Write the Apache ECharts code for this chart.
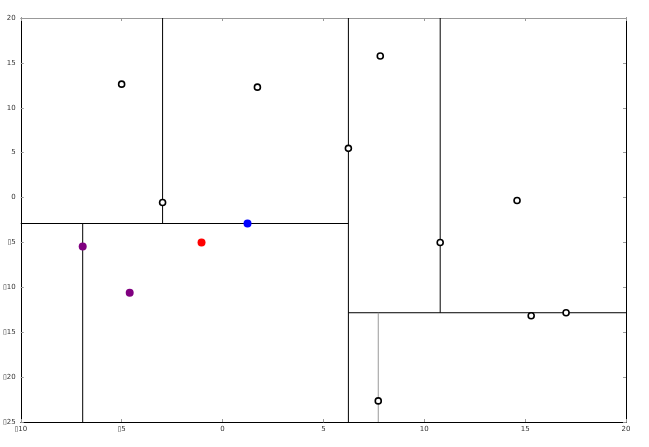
<!DOCTYPE html>
<html>
<head>
<meta charset="utf-8">
<script src="https://cdn.jsdelivr.net/npm/echarts@6/dist/echarts.min.js"></script>
<style>
  html, body { margin: 0; padding: 0; background: #fff; }
  #chart { width: 649px; height: 447px; }
</style>
</head>
<body>
<div id="chart"></div>
<script>
// kd-tree points (hollow)
const nodePoints = [
  [-5.0, 12.63], [-2.97, -0.55], [1.73, 12.3], [6.24, 5.48], [7.82, 15.76],
  [10.79, -5.0], [14.6, -0.32], [15.3, -13.16], [17.03, -12.83], [7.72, -22.65]
];
// highlighted points
const purplePoints = [[-6.93, -5.46], [-4.6, -10.6]];
const redPoints = [[-1.04, -5.01]];
const bluePoints = [[1.24, -2.89]];

// split lines [x1, y1, x2, y2]
const splitLines = [
  [6.24, -25, 6.24, 20],
  [-10, -2.89, 6.24, -2.89],
  [-2.97, -2.89, -2.97, 20],
  [-6.93, -25, -6.93, -2.89],
  [10.79, -12.83, 10.79, 20],
  [6.24, -12.83, 20, -12.83]
];
const greyLines = [
  [7.72, -25, 7.72, -12.83]
];

const xTicks = { min: -10, max: 20, interval: 5 };
const yTicks = { min: -25, max: 20, interval: 5 };

const fmt = v => String(v).replace('-', '\u25AF');
const labelStyle = { fontFamily: 'DejaVu Sans', fontSize: 7, color: '#333', formatter: fmt };

const lineSeries = (segs, color) => segs.map(s => ({
  type: 'line',
  data: [[s[0], s[1]], [s[2], s[3]]],
  symbol: 'none',
  lineStyle: { color, width: 1, opacity: 1 },
  silent: true,
  z: 1,
  animation: false
}));

const dot = (data, color, size) => ({
  type: 'scatter', data, symbol: 'circle', symbolSize: size,
  itemStyle: { color, opacity: 1 }, z: 5
});

const chart = echarts.init(document.getElementById('chart'));
chart.setOption({
  animation: false,
  grid: { left: 20, right: 23, top: 18, bottom: 25 },
  xAxis: [
    {
      type: 'value', ...xTicks, position: 'bottom',
      axisLine: { onZero: false, lineStyle: { color: '#000', width: 1 } },
      axisTick: { inside: true, length: 3, lineStyle: { color: '#999' } },
      axisLabel: { ...labelStyle, margin: 4 },
      splitLine: { show: false }
    },
    {
      type: 'value', ...xTicks, position: 'top',
      axisLine: { onZero: false, lineStyle: { color: '#999', width: 1 } },
      axisTick: { inside: true, length: 3, lineStyle: { color: '#999' } },
      axisLabel: { show: false },
      splitLine: { show: false }
    }
  ],
  yAxis: [
    {
      type: 'value', ...yTicks, position: 'left',
      axisLine: { show: true, onZero: false, lineStyle: { color: '#000', width: 1 } },
      axisTick: { show: true, inside: true, length: 3, lineStyle: { color: '#999' } },
      axisLabel: { ...labelStyle, margin: 5 },
      splitLine: { show: false }
    },
    {
      type: 'value', ...yTicks, position: 'right',
      axisLine: { show: true, onZero: false, lineStyle: { color: '#000', width: 1 } },
      axisTick: { show: true, inside: true, length: 3, lineStyle: { color: '#999' } },
      axisLabel: { show: false },
      splitLine: { show: false }
    }
  ],
  series: [
    ...lineSeries(splitLines, '#000'),
    ...lineSeries(greyLines, '#999'),
    {
      type: 'scatter', data: nodePoints, symbol: 'circle', symbolSize: 6,
      itemStyle: { color: '#fff', borderColor: '#000', borderWidth: 1.6, opacity: 1 }, z: 5
    },
    dot(purplePoints, '#800080', 8),
    dot(redPoints, '#ff0000', 8),
    dot(bluePoints, '#0000ff', 8)
  ]
});
</script>
</body>
</html>
